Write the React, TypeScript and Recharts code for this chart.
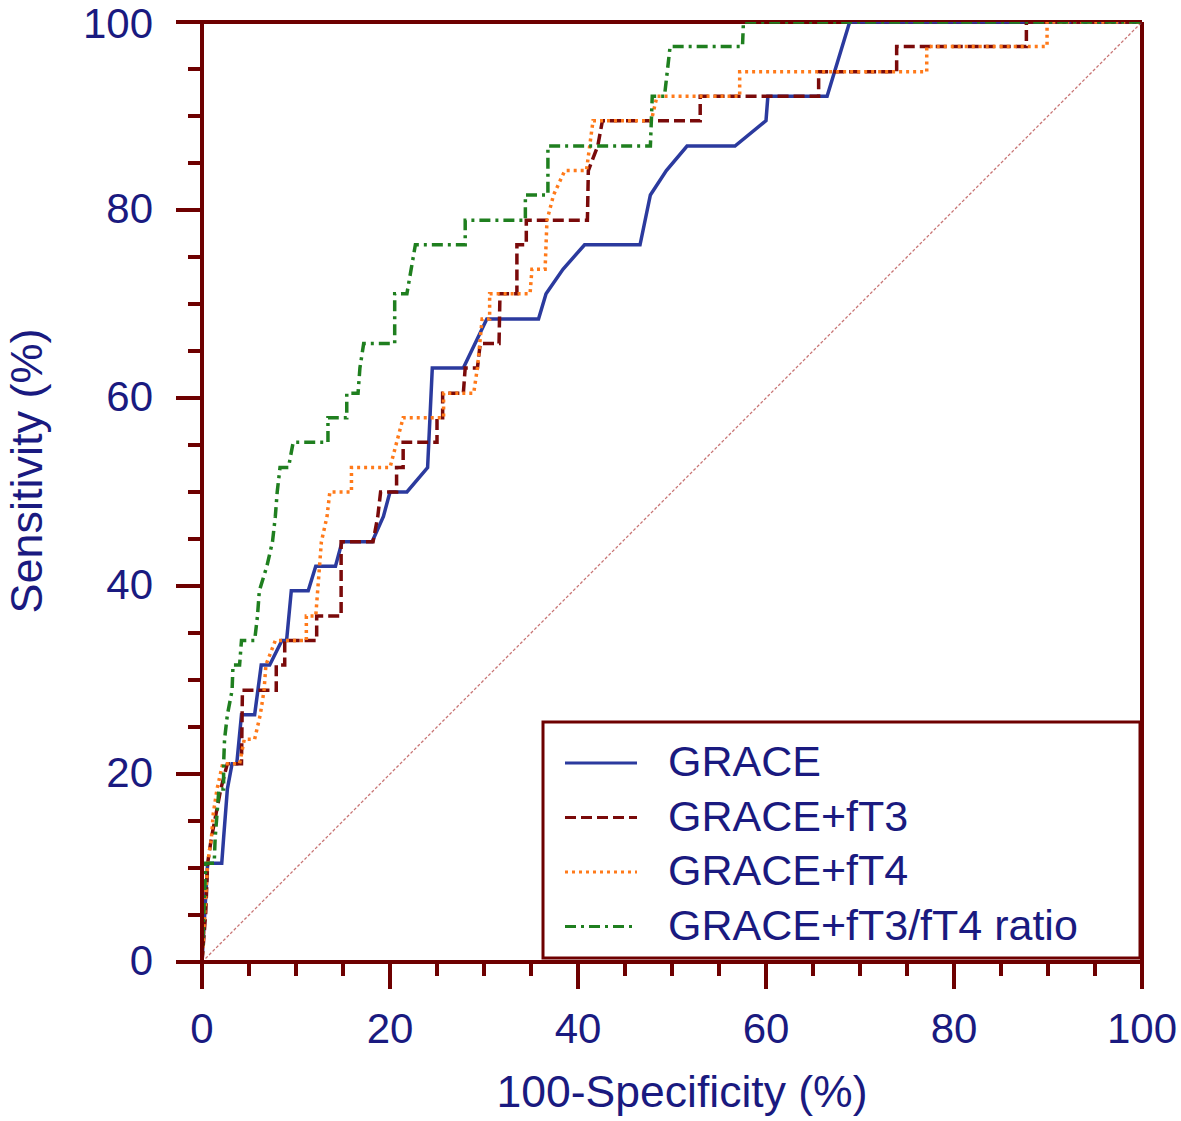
import { LineChart, Line, XAxis, YAxis, ReferenceLine } from "recharts";

// ROC points: [100-specificity, sensitivity]
const grace: [number, number][] = [
  [0, 0], [0.3, 5.3], [0.6, 10.5], [2.1, 10.5], [2.3, 13.2], [2.7, 18.4], [3.2, 21.1], [3.7, 21.1],
  [4.2, 26.3], [5.6, 26.3], [6.3, 31.6], [7.2, 31.6], [8.5, 34.2], [9.0, 34.2], [9.5, 39.5],
  [11.3, 39.5], [12.1, 42.1], [14.2, 42.1], [14.9, 44.7], [18.1, 44.7], [19.3, 47.4], [20.0, 50.0],
  [21.8, 50.0], [24.0, 52.6], [24.5, 63.2], [27.8, 63.2], [30.3, 68.4], [35.8, 68.4], [36.6, 71.1],
  [38.4, 73.7], [40.7, 76.3], [46.6, 76.3], [47.7, 81.6], [49.4, 84.2], [51.6, 86.8], [56.7, 86.8],
  [60.0, 89.5], [60.2, 92.1], [66.5, 92.1], [68.9, 100], [100, 100],
];

const graceFt3: [number, number][] = [
  [0, 0], [0.4, 5.3], [0.6, 10.5], [1.0, 13.2], [1.5, 15.8], [2.0, 18.4], [2.7, 21.1], [4.2, 21.1],
  [4.3, 28.9], [7.9, 28.9], [7.9, 31.6], [8.8, 31.6], [8.8, 34.2], [12.2, 34.2], [12.2, 36.8],
  [14.8, 36.8], [14.8, 44.7], [18.2, 44.7], [18.7, 47.4], [19.0, 50.0], [20.7, 50.0], [20.7, 52.6],
  [21.4, 52.6], [21.4, 55.3], [25.0, 55.3], [25.0, 57.9], [25.6, 57.9], [25.6, 60.5], [27.8, 60.5],
  [28.0, 63.2], [29.3, 63.2], [29.6, 65.8], [31.6, 65.8], [31.7, 71.1], [33.5, 71.1], [33.5, 76.3],
  [34.5, 76.3], [34.5, 78.9], [41.0, 78.9], [41.1, 84.2], [42.1, 86.8], [42.6, 89.5], [53.0, 89.5],
  [53.0, 92.1], [65.6, 92.1], [65.6, 94.7], [73.9, 94.7], [73.9, 97.4], [87.7, 97.4], [87.7, 100],
  [100, 100],
];

const graceFt4: [number, number][] = [
  [0, 0], [0.3, 5.3], [0.6, 10.5], [1.0, 13.2], [1.2, 15.8], [1.6, 18.4], [2.2, 21.1], [4.0, 21.1],
  [4.5, 23.7], [5.6, 23.7], [6.2, 26.3], [6.6, 28.9], [6.8, 31.6], [7.8, 34.2], [11.1, 34.2],
  [11.1, 36.8], [12.1, 36.8], [12.7, 44.7], [13.3, 47.4], [13.6, 50.0], [15.9, 50.0], [15.9, 52.6],
  [20.0, 52.6], [21.4, 57.9], [25.7, 57.9], [25.7, 60.5], [28.9, 60.5], [29.3, 63.2], [29.8, 68.4],
  [30.6, 68.4], [30.6, 71.1], [34.9, 71.1], [35.1, 73.7], [36.5, 73.7], [36.7, 78.9], [37.4, 81.6],
  [38.6, 84.2], [40.9, 84.2], [41.6, 89.5], [47.8, 89.5], [48.4, 92.1], [57.2, 92.1], [57.2, 94.7],
  [77.1, 94.7], [77.1, 97.4], [89.9, 97.4], [89.9, 100], [100, 100],
];

const graceRatio: [number, number][] = [
  [0, 0], [0.2, 5.3], [0.4, 10.5], [1.3, 10.5], [1.4, 13.2], [1.6, 15.8], [1.8, 18.4], [2.3, 18.4],
  [2.3, 21.1], [2.4, 23.7], [2.7, 26.3], [3.2, 28.9], [3.3, 31.6], [4.0, 31.6], [4.2, 34.2],
  [5.6, 34.2], [5.9, 36.8], [6.1, 39.5], [6.9, 42.1], [7.5, 44.7], [7.8, 47.4], [8.0, 50.0],
  [8.3, 52.6], [9.2, 52.6], [9.7, 55.3], [13.4, 55.3], [13.4, 57.9], [15.4, 57.9], [15.4, 60.5],
  [16.6, 60.5], [16.8, 63.2], [17.2, 65.8], [20.5, 65.8], [20.5, 71.1], [21.8, 71.1], [22.7, 76.3],
  [28.0, 76.3], [28.0, 78.9], [34.4, 78.9], [34.4, 81.6], [36.8, 81.6], [36.8, 86.8], [47.7, 86.8],
  [47.9, 92.1], [49.2, 92.1], [49.8, 97.4], [57.5, 97.4], [57.6, 100], [100, 100],
];

const TICKS = [0, 5, 10, 15, 20, 25, 30, 35, 40, 45, 50, 55, 60, 65, 70, 75, 80, 85, 90, 95, 100];

const SERIES = [
  { name: "GRACE", points: grace, color: "#2b3a9e", dash: undefined },
  { name: "GRACE+fT3", points: graceFt3, color: "#7a0a0a", dash: "11 5" },
  { name: "GRACE+fT4", points: graceFt4, color: "#ff7a1a", dash: "3 4" },
  { name: "GRACE+fT3/fT4 ratio", points: graceRatio, color: "#1f7f1f", dash: "11 5 3 5" },
];

const AXIS = "#6e0000";
const TEXT = "#1a1a80";
const FONT = "'Liberation Sans', Arial, sans-serif";

const W = 1180;
const H = 1120;
const LEFT = 202;
const TOP = 22;
const RIGHT = 1142;
const BOTTOM = 962;

const toPts = (arr: [number, number][]) => arr.map(([x, y]) => ({ x, y }));

const XTick = (props: any) => {
  const { x, payload } = props;
  const v = payload.value;
  const major = v % 20 === 0;
  return (
    <g>
      <line x1={x} x2={x} y1={BOTTOM} y2={BOTTOM + (major ? 27 : 14)} stroke={AXIS} strokeWidth={4} />
      {major && (
        <text x={x} y={BOTTOM + 81} textAnchor="middle" fill={TEXT} fontSize={42} fontFamily={FONT}>
          {v}
        </text>
      )}
    </g>
  );
};

const YTick = (props: any) => {
  const { y, payload } = props;
  const v = payload.value;
  const major = v % 20 === 0;
  // keep the topmost label inside the picture
  const ty = Math.max(y + 13, 38);
  return (
    <g>
      <line x1={LEFT - (major ? 26 : 14)} x2={LEFT} y1={y} y2={y} stroke={AXIS} strokeWidth={4} />
      {major && (
        <text x={LEFT - 49} y={ty} textAnchor="end" fill={TEXT} fontSize={42} fontFamily={FONT}>
          {v}
        </text>
      )}
    </g>
  );
};

function LegendBox() {
  return (
    <svg
      width={600}
      height={240}
      style={{ position: "absolute", left: 541, top: 720, pointerEvents: "none" }}
    >
      <rect x={2} y={2} width={597} height={236} fill="#fff" stroke={AXIS} strokeWidth={3} />
      {SERIES.map((s, i) => {
        const cy = 43 + i * 54.5;
        return (
          <g key={s.name}>
            <line x1={24} x2={96} y1={cy} y2={cy} stroke={s.color} strokeWidth={3} strokeDasharray={s.dash} />
            <text x={127} y={cy + 13} fill={TEXT} fontSize={43} fontFamily={FONT}>
              {s.name}
            </text>
          </g>
        );
      })}
    </svg>
  );
}

export default function App() {
  return (
    <div style={{ position: "relative", width: W, height: H, background: "#fff" }}>
      <style>{`body{margin:0;background:#fff}`}</style>
      <LineChart
        width={W}
        height={H}
        margin={{ top: TOP, right: W - RIGHT, left: LEFT - 60, bottom: H - BOTTOM - 60 }}
      >
        <XAxis
          type="number"
          dataKey="x"
          domain={[0, 100]}
          ticks={TICKS}
          interval={0}
          height={60}
          axisLine={{ stroke: AXIS, strokeWidth: 4 }}
          tickLine={false}
          tick={<XTick />}
          allowDataOverflow
          label={{
            content: () => (
              <text x={682} y={1107} textAnchor="middle" fill={TEXT} fontSize={44.5} fontFamily={FONT}>
                100-Specificity (%)
              </text>
            ),
          }}
        />
        <YAxis
          type="number"
          dataKey="y"
          domain={[0, 100]}
          ticks={TICKS}
          interval={0}
          width={60}
          axisLine={{ stroke: AXIS, strokeWidth: 4 }}
          tickLine={false}
          tick={<YTick />}
          allowDataOverflow
          label={{
            content: () => (
              <text
                transform="translate(42,471) rotate(-90)"
                textAnchor="middle"
                fill={TEXT}
                fontSize={45}
                fontFamily={FONT}
              >
                Sensitivity (%)
              </text>
            ),
          }}
        />
        <ReferenceLine y={100} stroke={AXIS} strokeWidth={4} />
        <ReferenceLine x={100} stroke={AXIS} strokeWidth={4} />
        <ReferenceLine
          segment={[{ x: 0, y: 0 }, { x: 100, y: 100 }]}
          stroke="#c87474"
          strokeWidth={1.3}
          strokeDasharray="3 2"
        />
        {SERIES.map((s) => (
          <Line
            key={s.name}
            name={s.name}
            data={toPts(s.points)}
            dataKey="y"
            type="linear"
            stroke={s.color}
            strokeWidth={3.5}
            strokeDasharray={s.dash}
            dot={false}
            activeDot={false}
            isAnimationActive={false}
          />
        ))}
      </LineChart>
      <LegendBox />
    </div>
  );
}
